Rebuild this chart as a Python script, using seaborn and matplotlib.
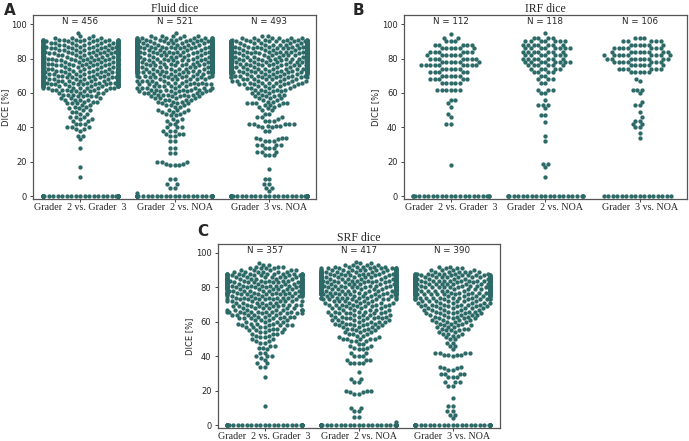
import numpy as np
import pandas as pd
import matplotlib
matplotlib.use("Agg")
import matplotlib.pyplot as plt
import seaborn as sns

pairs = ["Grader  2 vs. Grader  3", "Grader  2 vs. NOA", "Grader  3 vs. NOA"]

# Fluid dice (A): dice levels (%) and number of eyes at each level
fluid_g23_vals = [95, 93, 92, 91, 90, 89, 88, 87, 86, 85, 84, 83, 82, 81, 80, 79, 78, 77, 76, 75,
                  74, 73, 72, 71, 70, 69, 68, 67, 66, 65, 64, 63, 62, 61, 60, 59, 58, 57, 56, 55,
                  54, 53, 52, 51, 50, 49, 48, 46, 45, 44, 42, 40, 39, 38, 35, 33, 28, 17, 11, 0]
fluid_g23_cnts = [1, 2, 4, 10, 12, 12, 12, 12, 12, 12, 12, 12, 12, 12, 12, 12, 12, 12, 12, 12,
                  12, 12, 12, 12, 12, 12, 12, 12, 12, 12, 12, 8, 6, 4, 4, 4, 4, 3, 4, 3,
                  3, 2, 2, 2, 2, 2, 2, 3, 2, 2, 3, 3, 2, 1, 2, 1, 1, 1, 1, 38]
fluid_g2n_vals = [95, 93, 92, 91, 90, 89, 88, 87, 86, 85, 84, 83, 82, 81, 80, 79, 78, 77, 76, 75,
                  74, 73, 72, 71, 70, 69, 68, 67, 66, 65, 64, 63, 62, 61, 60, 59, 58, 57, 56, 55,
                  54, 53, 52, 50, 49, 48, 47, 45, 44, 42, 40, 38, 36, 35, 32, 28, 25, 20, 19, 18,
                  10, 7, 5, 2, 0]
fluid_g2n_cnts = [1, 5, 10, 15, 15, 15, 15, 15, 15, 15, 15, 15, 15, 15, 15, 15, 15, 15, 15, 15,
                  15, 15, 15, 8, 7, 7, 6, 6, 6, 6, 6, 7, 7, 6, 6, 5, 5, 4, 4, 3,
                  3, 3, 2, 4, 3, 2, 2, 2, 2, 2, 3, 3, 3, 2, 2, 2, 2, 3, 2, 3,
                  2, 2, 2, 1, 49]
fluid_g3n_vals = [93, 92, 91, 90, 89, 88, 87, 86, 85, 84, 83, 82, 81, 80, 79, 78, 77, 76, 75, 74,
                  73, 72, 71, 70, 69, 68, 67, 66, 65, 64, 63, 62, 61, 60, 59, 58, 57, 56, 55, 54,
                  53, 52, 51, 50, 48, 46, 45, 44, 42, 41, 40, 38, 34, 33, 32, 30, 28, 26, 24, 16,
                  10, 7, 5, 3, 0]
fluid_g3n_cnts = [2, 6, 8, 15, 15, 15, 15, 15, 15, 15, 15, 15, 15, 15, 15, 15, 15, 15, 15, 15,
                  15, 15, 9, 8, 7, 7, 6, 6, 5, 5, 4, 4, 3, 3, 3, 3, 3, 2, 2, 5,
                  3, 2, 1, 2, 2, 3, 1, 3, 5, 4, 2, 2, 3, 2, 3, 4, 3, 3, 3, 1,
                  2, 2, 2, 1, 48]

# IRF dice (B)
irf_g23_vals = [0, 18, 42, 46, 48, 52, 54, 56, 62, 66, 68, 70, 72, 74, 76, 78, 80, 82, 84, 86, 88, 90, 92, 94]
irf_g23_cnts = [21, 1, 2, 1, 1, 1, 1, 2, 6, 5, 5, 5, 5, 5, 9, 6, 7, 6, 6, 6, 5, 3, 2, 1]
irf_g2n_vals = [0, 11, 17, 19, 32, 35, 43, 47, 51, 53, 56, 60, 62, 66, 68, 70, 72, 74, 76, 78,
                80, 82, 84, 86, 88, 90, 92, 95]
irf_g2n_cnts = [21, 1, 1, 2, 1, 1, 1, 2, 1, 3, 1, 2, 3, 2, 3, 2, 4, 5, 6, 8,
                7, 7, 7, 8, 7, 7, 4, 1]
irf_g3n_vals = [0, 34, 37, 40, 42, 44, 46, 49, 53, 55, 60, 62, 67, 68, 72, 74, 76, 78, 80, 82,
                84, 86, 88, 90, 92]
irf_g3n_cnts = [16, 1, 1, 2, 2, 2, 1, 1, 2, 1, 1, 3, 1, 1, 5, 6, 6, 7, 9, 9,
                8, 7, 6, 5, 3]

# SRF dice (C)
srf_g23_vals = [94, 93, 92, 91, 90, 89, 88, 87, 86, 85, 84, 83, 82, 81, 80, 79, 78, 77, 76, 75,
                74, 73, 72, 71, 70, 69, 68, 67, 66, 65, 64, 63, 62, 61, 60, 59, 58, 57, 56, 55,
                54, 53, 52, 51, 50, 49, 48, 46, 45, 44, 42, 40, 39, 38, 36, 34, 28, 11, 0]
srf_g23_cnts = [1, 2, 3, 4, 5, 6, 12, 12, 12, 12, 12, 12, 12, 12, 12, 12, 12, 12, 12, 8,
                7, 7, 7, 6, 6, 6, 6, 8, 8, 6, 6, 5, 5, 4, 4, 4, 5, 4, 3, 3,
                3, 3, 2, 2, 2, 2, 2, 2, 2, 1, 2, 3, 1, 1, 2, 2, 1, 1, 28]
srf_g2n_vals = [95, 94, 93, 92, 91, 90, 89, 88, 87, 86, 85, 84, 83, 82, 81, 80, 79, 78, 77, 76,
                75, 74, 73, 72, 71, 70, 69, 68, 67, 66, 65, 64, 63, 62, 61, 60, 59, 58, 57, 56,
                55, 54, 53, 52, 51, 50, 49, 47, 46, 45, 44, 42, 40, 38, 36, 31, 27, 25, 20, 19,
                18, 10, 8, 5, 2, 0]
srf_g2n_cnts = [1, 2, 4, 6, 8, 13, 13, 13, 13, 13, 13, 13, 13, 13, 13, 13, 13, 13, 13, 13,
                8, 8, 7, 6, 6, 6, 5, 5, 5, 5, 5, 5, 5, 5, 5, 5, 5, 4, 4, 3,
                3, 3, 3, 2, 2, 5, 3, 2, 2, 2, 2, 2, 3, 3, 4, 1, 2, 2, 3, 2,
                2, 2, 2, 2, 1, 34]
srf_g3n_vals = [92, 91, 90, 89, 88, 87, 86, 85, 84, 83, 82, 81, 80, 79, 78, 77, 76, 75, 74, 73,
                72, 71, 70, 69, 68, 67, 66, 65, 64, 63, 62, 61, 60, 59, 58, 57, 56, 55, 54, 53,
                52, 51, 50, 48, 46, 44, 42, 41, 40, 34, 33, 32, 30, 28, 25, 23, 16, 11, 8, 6,
                4, 0]
srf_g3n_cnts = [2, 3, 4, 6, 8, 10, 15, 15, 15, 15, 15, 15, 15, 15, 15, 15, 15, 9, 8, 8,
                7, 6, 6, 6, 6, 5, 5, 5, 5, 4, 4, 4, 4, 3, 3, 3, 3, 3, 2, 3,
                2, 1, 2, 2, 2, 1, 4, 4, 1, 2, 2, 2, 4, 3, 3, 2, 1, 2, 2, 2,
                1, 35]


def make_frame(groups):
    rows = []
    for pair, (vals, cnts) in zip(pairs, groups):
        for v, c in zip(vals, cnts):
            rows += [(pair, v)] * c
    return pd.DataFrame(rows, columns=["pair", "dice"])


sns.set_style("ticks")
plt.rcParams['font.family'] = 'DejaVu Sans'

dot_color = '#2c6a67'
serif = 'Liberation Serif'

fig = plt.figure(figsize=(6.89, 4.41), dpi=100)

panels = [
    ("A", "Fluid dice", [(fluid_g23_vals, fluid_g23_cnts), (fluid_g2n_vals, fluid_g2n_cnts),
                         (fluid_g3n_vals, fluid_g3n_cnts)],
     [0.048, 0.549, 0.411, 0.417], (0.006, 0.977)),
    ("B", "IRF dice", [(irf_g23_vals, irf_g23_cnts), (irf_g2n_vals, irf_g2n_cnts),
                       (irf_g3n_vals, irf_g3n_cnts)],
     [0.586, 0.549, 0.411, 0.417], (0.512, 0.977)),
    ("C", "SRF dice", [(srf_g23_vals, srf_g23_cnts), (srf_g2n_vals, srf_g2n_cnts),
                       (srf_g3n_vals, srf_g3n_cnts)],
     [0.316, 0.030, 0.409, 0.417], (0.287, 0.474)),
]

for letter, title, groups, rect, letter_xy in panels:
    ax = fig.add_axes(rect)
    df = make_frame(groups)
    sns.swarmplot(data=df, x="pair", y="dice", order=pairs, color=dot_color,
                  size=3.1, linewidth=0, zorder=3, ax=ax)
    ax.set_ylim(-1.5, 105.3)
    ax.set_xlim(-0.5, 2.5)
    ax.set_yticks([0, 20, 40, 60, 80, 100])
    ax.set_xlabel("")
    ax.set_ylabel("DICE [%]", fontsize=6, labelpad=1)
    ax.set_title(title, family=serif, fontsize=8.5, pad=2)
    for i, (vals, cnts) in enumerate(groups):
        ax.text(i, 101.6, f"N = {sum(cnts)}", ha="center", va="center", fontsize=6.3)
    ax.tick_params(axis="y", labelsize=6, length=2.5, width=0.6, pad=2)
    ax.tick_params(axis="x", labelsize=7.2, length=2, width=0.6, pad=1)
    for lab in ax.get_xticklabels():
        lab.set_family(serif)
    for sp in ax.spines.values():
        sp.set_visible(True)
        sp.set_color('#555555')
        sp.set_linewidth(0.9)
    fig.text(letter_xy[0], letter_xy[1], letter, fontsize=11, fontweight="bold",
             ha="left", va="center")

fig.savefig("out.png", dpi=100)
